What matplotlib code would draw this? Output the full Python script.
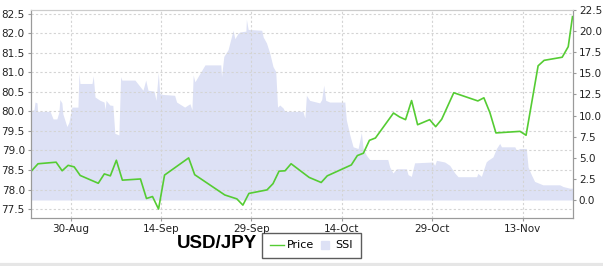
import matplotlib
matplotlib.use('Agg')
import matplotlib.pyplot as plt
import matplotlib.dates as mdates
import pandas as pd

# USD/JPY daily price (sampled around 14:00) and SSI, Aug-Nov 2012
start = pd.Timestamp('2012-08-23')

price_dates = [
    '08-23', '08-24', '08-27', '08-28', '08-29', '08-30', '08-31', '09-03',
    '09-04', '09-05', '09-06', '09-07', '09-10', '09-11', '09-12', '09-13',
    '09-14', '09-18', '09-19', '09-24', '09-26', '09-27', '09-28', '10-01',
    '10-02', '10-03', '10-04', '10-05', '10-08', '10-10', '10-11', '10-15',
    '10-16', '10-17', '10-18', '10-19', '10-22', '10-23', '10-24', '10-25',
    '10-26', '10-28', '10-29', '10-30', '11-01', '11-05', '11-06', '11-07',
    '11-08', '11-12', '11-13', '11-15', '11-16', '11-19', '11-20', '11-21',
]
price_values = [
    78.49, 78.66, 78.70, 78.48, 78.62, 78.58, 78.36, 78.16,
    78.40, 78.35, 78.75, 78.24, 78.27, 77.77, 77.82, 77.50,
    78.37, 78.81, 78.38, 77.86, 77.76, 77.60, 77.90, 77.99,
    78.15, 78.47, 78.48, 78.66, 78.31, 78.18, 78.35, 78.63,
    78.87, 78.93, 79.26, 79.32, 79.96, 79.86, 79.79, 80.28,
    79.66, 79.79, 79.61, 79.80, 80.48, 80.27, 80.35, 79.97,
    79.45, 79.49, 79.39, 81.17, 81.31, 81.39, 81.66, 82.43,
]
price_hour = 14

# SSI: hours since 2012-08-23 00:00 and value
ssi_hours = [
    10, 22, 26, 34, 36, 86, 98, 113, 121, 125, 133, 137, 153, 161, 173, 197,
    201, 205, 253, 258, 265, 285, 301, 305, 309, 317, 324, 336, 344, 360, 367, 372,
    424, 456, 467, 476, 500, 508, 517, 523, 535, 582, 590, 622, 643, 651, 656, 663,
    703, 766, 769, 778, 795, 815, 822, 834, 842, 866, 868, 875, 929, 935, 948, 961,
    974, 985, 992, 1001, 1014, 1021, 1093, 1101, 1107, 1120, 1160, 1168, 1176, 1184,
    1200, 1260, 1266, 1280, 1293, 1313, 1326, 1333, 1346, 1359, 1431, 1439, 1452, 1466,
    1505, 1512, 1525, 1538, 1610, 1618, 1625, 1658, 1678, 1698, 1711, 1785, 1790, 1804,
    1823, 1830, 1850, 1864, 1877, 1884, 1937, 1944, 1957, 1983, 1990, 2003, 2016, 2049,
    2116, 2129, 2156, 2167,
]
ssi_values = [
    10.6, 10.7, 11.6, 11.5, 10.5, 10.5, 9.6, 9.6, 10.4, 11.9, 11.5, 10.2, 8.7, 9.2, 11.0, 11.0,
    15.0, 13.8, 13.8, 14.7, 12.2, 11.8, 11.6, 10.7, 11.8, 11.5, 11.25, 11.2, 7.9, 7.7, 14.6, 14.2,
    14.2, 13.0, 14.2, 13.0, 12.9, 11.8, 15.1, 12.6, 12.5, 12.4, 11.6, 11.0, 11.4, 10.7, 14.8, 14.0,
    16.0, 16.0, 14.6, 17.0, 17.8, 20.1, 19.1, 19.7, 19.9, 20.0, 21.4, 20.2, 20.1, 19.3, 18.6, 17.4,
    15.8, 15.2, 11.0, 11.25, 10.9, 10.5, 10.5, 9.7, 12.4, 11.8, 11.5, 11.9, 13.6, 11.8,
    11.6, 11.6, 9.5, 7.7, 6.3, 6.1, 8.0, 6.1, 5.3, 4.8, 4.8, 3.9, 3.2, 3.7,
    3.7, 3.0, 2.8, 4.4, 4.5, 4.1, 4.7, 4.5, 4.1, 3.2, 2.76, 2.76, 3.15, 2.8,
    4.5, 4.7, 5.1, 6.1, 6.7, 6.3, 6.3, 5.9, 6.1, 6.1, 3.9, 3.0, 2.2, 1.8,
    1.8, 1.6, 1.4, 1.4,
]

tick_dates = ['2012-08-30', '2012-09-14', '2012-09-29', '2012-10-14', '2012-10-29', '2012-11-13']
left_ticks = [77.5, 78.0, 78.5, 79.0, 79.5, 80.0, 80.5, 81.0, 81.5, 82.0, 82.5]
right_ticks = [0.0, 2.5, 5.0, 7.5, 10.0, 12.5, 15.0, 17.5, 20.0, 22.5]

price_x = [pd.Timestamp('2012-' + d) + pd.Timedelta(hours=price_hour) for d in price_dates]
price_x[-1] = start + pd.Timedelta(hours=ssi_hours[-1])
ssi_x = [start + pd.Timedelta(hours=h) for h in ssi_hours]

green = '#55cc33'
area = '#dde1f5'
spine_c = '#9a9a9a'

fig = plt.figure(figsize=(6.03, 2.66), dpi=100)
ax = fig.add_axes([31 / 603, 1 - 218 / 266, 541.5 / 603, 208 / 266])
ax2 = ax.twinx()

ax2.fill_between(ssi_x, ssi_values, 0, color=area, lw=0)
ax2.set_ylim(-2.13, 22.5)
ax2.set_yticks(right_ticks)
ax2.set_yticklabels(['%.1f' % v for v in right_ticks])

ax.set_zorder(ax2.get_zorder() + 1)
ax.patch.set_visible(False)
ax.plot(price_x, price_values, color=green, lw=1.2)
ax.set_ylim(77.27, 82.6)
ax.set_yticks(left_ticks)
ax.set_yticklabels(['%.1f' % v for v in left_ticks])
ax.set_xlim(ssi_x[0], ssi_x[-1])
ax.set_xticks(pd.to_datetime(tick_dates))
ax.xaxis.set_major_formatter(mdates.DateFormatter('%d-%b'))
ax.grid(True, color='#d4d4d4', ls=(0, (2, 2)), lw=0.8)

for a in (ax, ax2):
    for s in a.spines.values():
        s.set_color(spine_c)
    a.spines['top'].set_color('#cccccc')
    a.tick_params(colors=spine_c, labelcolor='#222222', labelsize=7.5, length=2.5, width=0.8, pad=2)

ax.text(0.360, 0.086, 'USD/JPY', transform=fig.transFigure, ha='center', va='center',
        fontsize=13.5, fontweight='bold', family='Liberation Sans')

handles = [plt.Line2D([], [], color=green, lw=1),
           plt.Line2D([], [], color=area, ls='', marker='s', markersize=5.5)]
leg = fig.legend(handles=handles, labels=['Price', 'SSI'], loc='center',
                 bbox_to_anchor=(311.5 / 603, 1 - 245.5 / 266),
                 ncol=2, fontsize=8, frameon=True, fancybox=False, handlelength=1.2,
                 handletextpad=0.3, columnspacing=0.4, borderpad=0.7, borderaxespad=0)
leg.get_frame().set_edgecolor('#333333')
leg.get_frame().set_linewidth(1)

fig.add_artist(plt.Line2D([0, 1], [1.5 / 266, 1.5 / 266], color='#e6e6e6', lw=3, transform=fig.transFigure))

fig.savefig('out.png', dpi=100)
